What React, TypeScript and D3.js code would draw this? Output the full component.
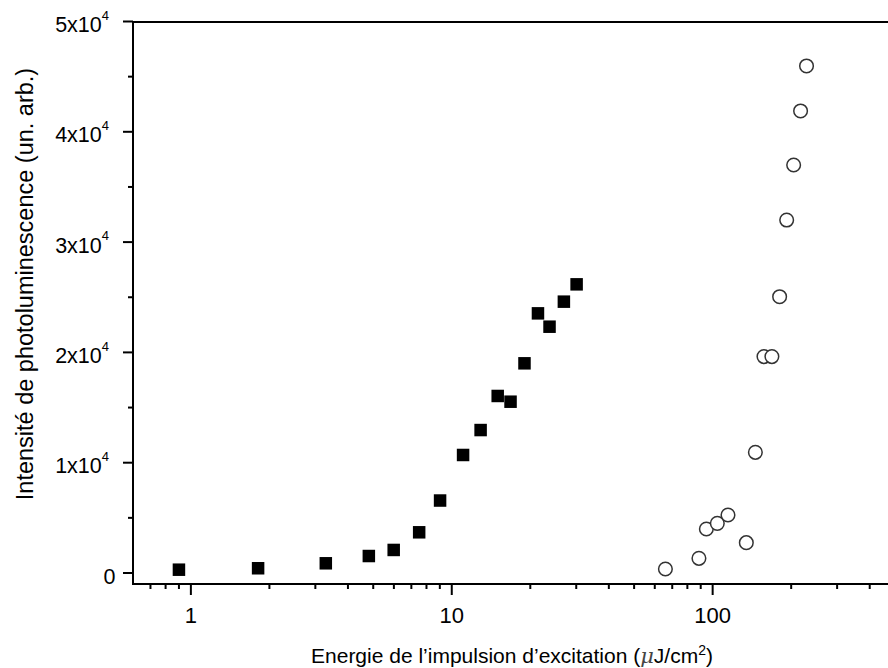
import React from 'react';
import * as d3 from 'd3';

// Series A: filled squares (energy µJ/cm², intensity a.u.)
const squareX = [0.9, 1.81, 3.29, 4.81, 5.99, 7.5, 9.02, 11.05, 12.9, 15.0, 16.8, 19.0, 21.4, 23.7, 26.9, 30.1];
const squareY = [300, 430, 880, 1540, 2090, 3690, 6570, 10700, 12960, 16050, 15530, 19010, 23540, 22330, 24600, 26170];

// Series B: open circles
const circleX = [65.9, 88.6, 94.6, 104.2, 114.5, 134.6, 145.8, 157.3, 168.7, 180.6, 192.2, 204.4, 217.3, 229];
const circleY = [360, 1330, 3990, 4500, 5260, 2750, 10940, 19620, 19620, 25050, 32000, 36990, 41890, 45970];

const xMajorTicks = [1, 10, 100];
const xMajorLabels = ['1', '10', '100'];
const xMinorTicks = [0.7, 0.8, 0.9, 2, 3, 4, 5, 6, 7, 8, 9, 20, 30, 40, 50, 60, 70, 80, 90, 200, 300, 400];

const yMajorTicks = [0, 10000, 20000, 30000, 40000, 50000];
const yMajorMantissa = ['0', '1x10', '2x10', '3x10', '4x10', '5x10'];
const yMajorExponent = ['', '4', '4', '4', '4', '4'];
const yMinorTicks = [5000, 15000, 25000, 35000, 45000];

const xTitle = 'Energie de l\u2019impulsion d\u2019excitation (';
const yTitle = 'Intensit\u00e9 de photoluminescence (un. arb.)';

const W = 888;
const H = 668;
const left = 133;
const top = 22;
const bottom = 584;

export default function App() {
  const x = d3.scaleLog().domain([0.6, 500]).range([left, 895]);
  const y = d3.scaleLinear().domain([0, 50000]).range([573, 21.5]);
  const font = '"Liberation Sans", Arial, Helvetica, sans-serif';
  const sq = 12.5;

  return (
    <svg width={W} height={H} style={{ position: 'absolute', left: 0, top: 0, background: '#fff' }} fontFamily={font}>
      <rect x={0} y={0} width={W} height={H} fill="#fff" />
      {/* axes */}
      <line x1={left} y1={top} x2={left} y2={bottom + 1} stroke="#000" strokeWidth={2} />
      <line x1={left - 1} y1={bottom} x2={W} y2={bottom} stroke="#000" strokeWidth={2} />
      <line x1={left} y1={top} x2={W} y2={top} stroke="#000" strokeWidth={2} />

      {/* y ticks */}
      {yMajorTicks.map((v, i) => (
        <g key={'ym' + i}>
          <line x1={left - 10} x2={left} y1={y(v)} y2={y(v)} stroke="#000" strokeWidth={2} />
          <text x={yMajorExponent[i] ? 109 : 115.5} y={y(v) + 10.6} textAnchor="end" fontSize={21.5} fill="#000">
            {yMajorMantissa[i]}
            {yMajorExponent[i] && (
              <tspan fontSize={13} dy={-12.5}>{yMajorExponent[i]}</tspan>
            )}
          </text>
        </g>
      ))}
      {yMinorTicks.map((v, i) => (
        <line key={'yn' + i} x1={left - 5} x2={left} y1={y(v)} y2={y(v)} stroke="#000" strokeWidth={2} />
      ))}

      {/* x ticks */}
      {xMajorTicks.map((v, i) => (
        <g key={'xm' + i}>
          <line x1={x(v)} x2={x(v)} y1={bottom} y2={bottom + 11} stroke="#000" strokeWidth={2} />
          <text x={x(v)} y={623.3} textAnchor="middle" fontSize={22} fill="#000">{xMajorLabels[i]}</text>
        </g>
      ))}
      {xMinorTicks.map((v, i) => (
        <line key={'xn' + i} x1={x(v)} x2={x(v)} y1={bottom} y2={bottom + 5} stroke="#000" strokeWidth={2} />
      ))}

      {/* titles */}
      <text x={512} y={662.5} textAnchor="middle" fontSize={21} fill="#000">
        {xTitle}
        <tspan fontFamily='"DejaVu Serif", serif' fontStyle="italic" fill="#444">{'\u03bc'}</tspan>
        {'J/cm'}
        <tspan fontSize={14} dy={-8}>2</tspan>
        <tspan dy={8}>)</tspan>
      </text>
      <text transform={`translate(33,${284}) rotate(-90)`} textAnchor="middle" fontSize={23.5} fill="#000">
        {yTitle}
      </text>

      {/* squares */}
      {squareX.map((v, i) => (
        <rect key={'s' + i} x={x(v) - sq / 2} y={y(squareY[i]) - sq / 2} width={sq} height={sq} fill="#000" />
      ))}
      {/* circles */}
      {circleX.map((v, i) => (
        <circle key={'c' + i} cx={x(v)} cy={y(circleY[i])} r={6.8} fill="#fff" stroke="#333" strokeWidth={1.5} />
      ))}
    </svg>
  );
}
